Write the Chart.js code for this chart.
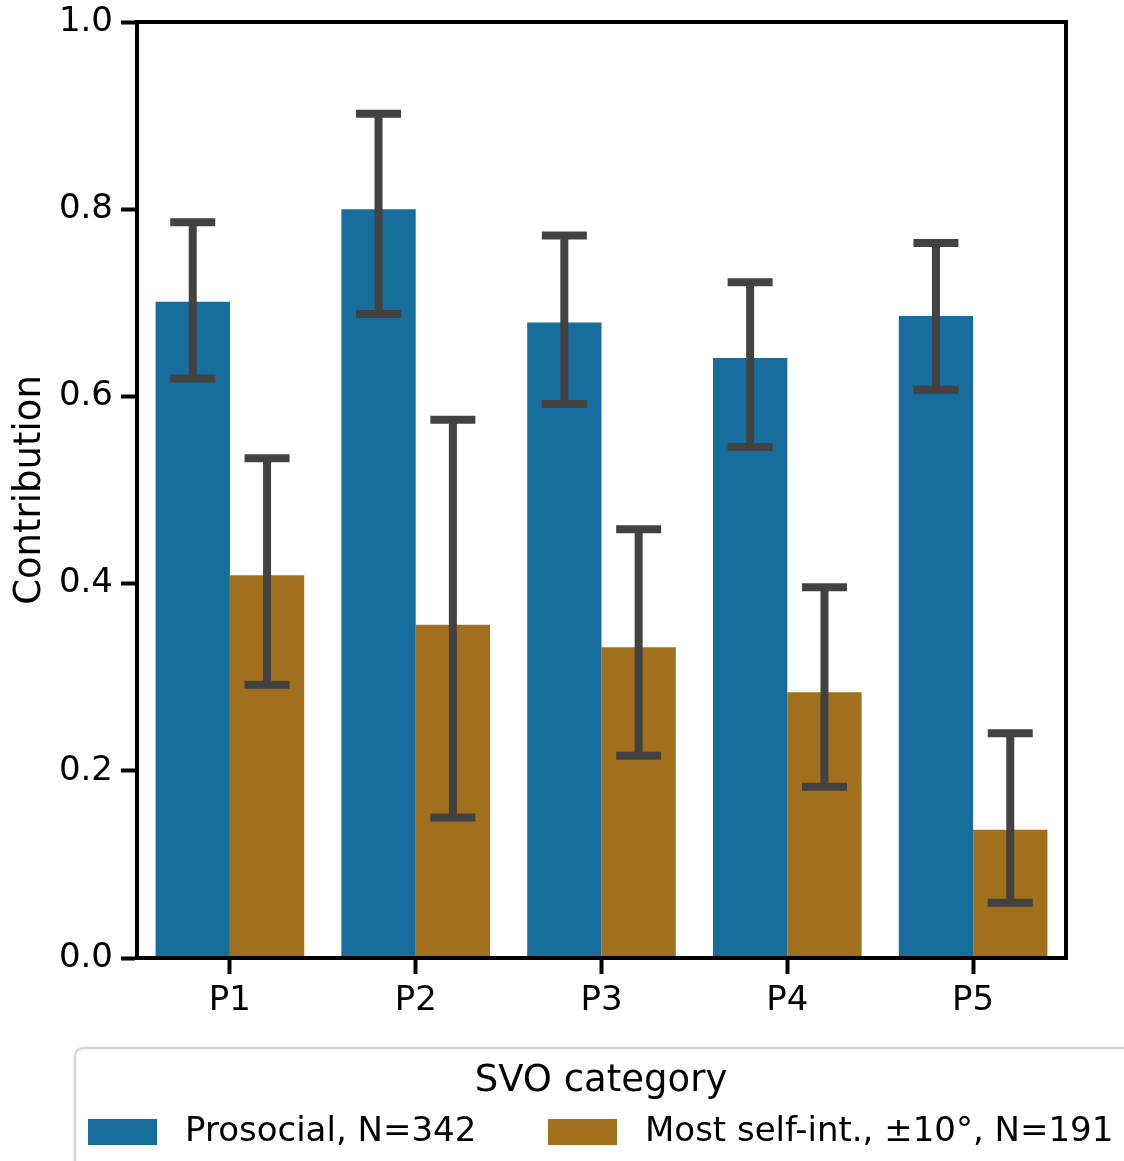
<!DOCTYPE html>
<html>
<head>
<meta charset="utf-8">
<script src="https://cdn.jsdelivr.net/npm/chart.js@4.4.1/dist/chart.umd.min.js"></script>
<style>
  html, body { margin: 0; padding: 0; background: #fff; }
  #wrap { width: 1124px; height: 1161px; }
</style>
</head>
<body>
<div id="wrap"><canvas id="chart" width="1124" height="1161"></canvas></div>
<script>
// data
const categories = ["P1", "P2", "P3", "P4", "P5"];
const prosocial = [0.701, 0.800, 0.679, 0.641, 0.686];
const prosocialLow = [0.619, 0.688, 0.592, 0.546, 0.607];
const prosocialHigh = [0.786, 0.902, 0.772, 0.722, 0.764];
const selfish = [0.409, 0.356, 0.332, 0.284, 0.137];
const selfishLow = [0.292, 0.150, 0.216, 0.183, 0.059];
const selfishHigh = [0.534, 0.575, 0.458, 0.396, 0.240];
const yTicks = [0.0, 0.2, 0.4, 0.6, 0.8, 1.0];

const seriesNames = ["Prosocial, N=342", "Most self-int., \u00b110\u00b0, N=191"];
const colors = ["#176D9C", "#A1701C"];
const legendTitle = "SVO category";

const FONT = "'DejaVu Sans', sans-serif";

// error bars drawn after the bars
const errorBars = {
    id: "errorBars",
    afterDatasetsDraw(chart) {
        const ctx = chart.ctx;
        const y = chart.scales.y;
        const lows = [prosocialLow, selfishLow];
        const highs = [prosocialHigh, selfishHigh];
        ctx.save();
        ctx.strokeStyle = "#424242";
        ctx.lineWidth = 8;
        ctx.lineCap = "butt";
        chart.data.datasets.forEach((ds, i) => {
            const meta = chart.getDatasetMeta(i);
            meta.data.forEach((bar, j) => {
                const x = bar.x;
                const y1 = y.getPixelForValue(lows[i][j]);
                const y2 = y.getPixelForValue(highs[i][j]);
                ctx.beginPath();
                ctx.moveTo(x, y1);
                ctx.lineTo(x, y2);
                ctx.moveTo(x - 22.5, y1);
                ctx.lineTo(x + 22.5, y1);
                ctx.moveTo(x - 22.5, y2);
                ctx.lineTo(x + 22.5, y2);
                ctx.stroke();
            });
        });
        ctx.restore();
    }
};

// frame round the plot + legend box
const frameAndLegend = {
    id: "frameAndLegend",
    afterDraw(chart) {
        const ctx = chart.ctx;
        const a = chart.chartArea;
        ctx.save();
        ctx.strokeStyle = "#000";
        ctx.lineWidth = 4;
        ctx.strokeRect(a.left, a.top, a.right - a.left, a.bottom - a.top);

        // legend box (runs off the right and bottom edge)
        ctx.strokeStyle = "#d6d6d6";
        ctx.lineWidth = 2.5;
        ctx.beginPath();
        ctx.roundRect(75, 1048, 1060, 140, 8);
        ctx.stroke();

        ctx.fillStyle = "#000";
        ctx.textBaseline = "middle";
        ctx.textAlign = "center";
        ctx.font = "37px " + FONT;
        ctx.fillText(legendTitle, 601, 1081);

        ctx.textAlign = "left";
        ctx.font = "34px " + FONT;
        const boxX = [88, 548];
        const textX = [185, 645];
        for (let i = 0; i < 2; i++) {
            ctx.fillStyle = colors[i];
            ctx.fillRect(boxX[i], 1119, 69, 26);
            ctx.fillStyle = "#000";
            ctx.fillText(seriesNames[i], textX[i], 1132);
        }
        ctx.restore();
    }
};

new Chart(document.getElementById("chart"), {
    type: "bar",
    data: {
        labels: categories,
        datasets: [
            { label: seriesNames[0], data: prosocial, backgroundColor: colors[0], categoryPercentage: 0.8, barPercentage: 1.0 },
            { label: seriesNames[1], data: selfish, backgroundColor: colors[1], categoryPercentage: 0.8, barPercentage: 1.0 }
        ]
    },
    options: {
        responsive: false,
        animation: false,
        layout: { padding: { top: 22, right: 58, bottom: 140, left: 0 } },
        plugins: {
            legend: { display: false },
            tooltip: { enabled: false }
        },
        scales: {
            x: {
                grid: { display: true, drawOnChartArea: false, offset: false, tickLength: 16, tickWidth: 4, tickColor: "#000" },
                border: { display: true, color: "#000", width: 4 },
                ticks: { color: "#000", font: { family: FONT, size: 34 }, padding: 7 },
                afterFit(scale) { scale.height = 63; scale.paddingLeft = 0; scale.paddingRight = 0; }
            },
            y: {
                min: 0,
                max: 1,
                afterBuildTicks(scale) { scale.ticks = yTicks.map(v => ({ value: v })); },
                grid: { display: true, drawOnChartArea: false, tickLength: 16, tickWidth: 4, tickColor: "#000" },
                border: { display: true, color: "#000", width: 4 },
                ticks: { color: "#000", font: { family: FONT, size: 34 }, padding: 8, callback: v => v.toFixed(1) },
                title: { display: true, text: "Contribution", color: "#000", font: { family: FONT, size: 37 }, padding: { top: 8, bottom: 4 } },
                afterFit(scale) { scale.width = 137; scale.paddingTop = 0; scale.paddingBottom = 0; }
            }
        }
    },
    plugins: [errorBars, frameAndLegend]
});
</script>
</body>
</html>
